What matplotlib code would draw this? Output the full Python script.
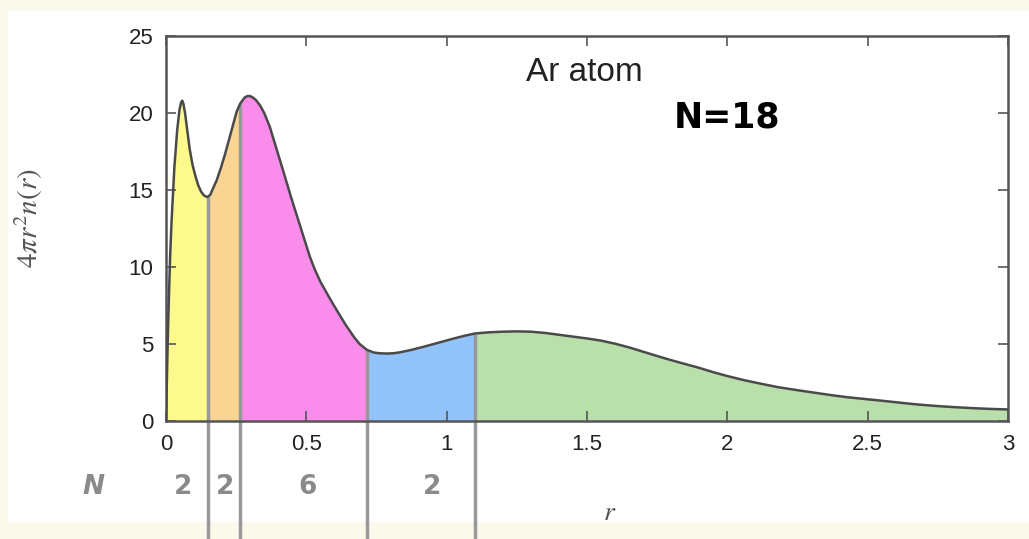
import numpy as np
import matplotlib
matplotlib.use('Agg')
import matplotlib.pyplot as plt
from matplotlib.patches import Rectangle

# radial density of the Ar atom
r_vals = [0, 0.003, 0.006, 0.01, 0.015, 0.02, 0.03, 0.04, 0.048, 0.054, 0.058,
          0.062, 0.068, 0.075, 0.085, 0.095, 0.105, 0.115, 0.125, 0.135, 0.146,
          0.15, 0.158, 0.165, 0.18, 0.195, 0.21, 0.225, 0.24, 0.252, 0.264,
          0.28, 0.29, 0.30, 0.31, 0.32, 0.335, 0.35, 0.37, 0.4, 0.42, 0.442,
          0.46, 0.48, 0.5, 0.513, 0.53, 0.55, 0.57, 0.584, 0.6, 0.62, 0.64,
          0.655, 0.67, 0.69, 0.716, 0.74, 0.76, 0.786, 0.81, 0.83, 0.87, 0.92,
          0.97, 1.02, 1.06, 1.10, 1.15, 1.2, 1.25, 1.3, 1.35, 1.4, 1.45, 1.5,
          1.55, 1.6, 1.65, 1.7, 1.75, 1.8, 1.85, 1.9, 1.95, 2.0, 2.06, 2.12,
          2.18, 2.25, 2.31, 2.37, 2.43, 2.5, 2.56, 2.62, 2.68, 2.75, 2.81,
          2.87, 2.93, 3.0]
dens_vals = [0, 2.5, 5.0, 7.8, 10.8, 13.0, 16.5, 18.9, 20.2, 20.7, 20.8,
             20.6, 20.0, 19.0, 17.6, 16.6, 15.9, 15.3, 14.9, 14.65, 14.55,
             14.56, 14.7, 15.0, 15.6, 16.4, 17.3, 18.3, 19.3, 20.1, 20.6,
             21.0, 21.1, 21.1, 21.0, 20.85, 20.5, 20.0, 19.1, 17.3, 16.1, 14.75,
             13.7, 12.55, 11.4, 10.65, 9.85, 9.05, 8.4, 7.95, 7.45, 6.85, 6.25,
             5.85, 5.45, 5.0, 4.62, 4.45, 4.4, 4.38, 4.4, 4.45, 4.6, 4.83,
             5.08, 5.33, 5.52, 5.68, 5.76, 5.8, 5.82, 5.8, 5.72, 5.6, 5.48, 5.36,
             5.22, 5.02, 4.78, 4.5, 4.22, 3.95, 3.7, 3.45, 3.17, 2.92, 2.65, 2.42,
             2.2, 2.0, 1.84, 1.68, 1.54, 1.41, 1.3, 1.18, 1.07, 0.97, 0.9,
             0.84, 0.79, 0.75]

shell_edges = [0, 0.15, 0.264, 0.716, 1.10, 3.0]
shell_colors = ['#fcfa8c', '#fad492', '#fa8ceb', '#92c3fa', '#b9e0aa']
count_labels = ['N', '2', '2', '6', '2']

x_ticks = [0, 0.5, 1, 1.5, 2, 2.5, 3]
x_ticklabels = ['0', '0.5', '1', '1.5', '2', '2.5', '3']
y_ticks = [0, 5, 10, 15, 20, 25]

r = np.array(r_vals)
d = np.array(dens_vals)

plt.rcParams['font.family'] = ['Liberation Sans', 'DejaVu Sans']
plt.rcParams['mathtext.fontset'] = 'stix'

fig = plt.figure(figsize=(10.29, 5.39), dpi=100, facecolor='#fbf8ec')
fig.patches.append(Rectangle((0.008, 0.032), 0.992, 0.948, transform=fig.transFigure,
                             facecolor='white', edgecolor='none', zorder=-10))
ax = fig.add_axes([0.1613, 0.2189, 0.8183, 0.7143])

for i in range(len(shell_colors)):
    lo, hi = shell_edges[i], shell_edges[i + 1]
    m = (r >= lo) & (r <= hi)
    ax.fill_between(r[m], 0, d[m], color=shell_colors[i], lw=0, zorder=1)

# boundaries between shells, running down past the axis
for e in shell_edges[1:-1]:
    top = np.interp(e, r, d)
    ax.plot([e, e], [-7.7, top], color='#999999', lw=2.5, clip_on=False,
            solid_capstyle='butt', zorder=2)

ax.plot(r, d, color='#4a4a4a', lw=1.8, zorder=3)

ax.set_xlim(0, 3)
ax.set_ylim(0, 25)
ax.set_xticks(x_ticks)
ax.set_xticklabels(x_ticklabels)
ax.set_yticks(y_ticks)
ax.tick_params(direction='in', length=7, width=1.2, color='#555555',
               top=True, right=True, labelsize=16, labelcolor='#222222', pad=9)
for s in ax.spines.values():
    s.set_color('#555555')
    s.set_linewidth(1.8)

ax.set_ylabel(r'$4\pi r^2 n(r)$', fontsize=21, color='#555555')
ax.yaxis.set_label_coords(-0.1437, 0.527)
ax.set_xlabel(r'$r$', fontsize=20, color='#555555')
ax.xaxis.set_label_coords(0.527, -0.205)

ax.text(1.49, 22.6, 'Ar atom', fontsize=24, color='#222222', ha='center', va='center')

# handwritten notes
fig.text(727 / 1029, 1 - 118 / 539, 'N=18', fontsize=25, fontweight='bold',
         color='black', ha='center', va='center', family='DejaVu Sans')
label_x = [-0.26, 0.06, 0.21, 0.506, 0.948]
for lx, t in zip(label_x, count_labels):
    ax.text(lx, -4.3, t, fontsize=19, fontweight='bold', color='#8a8a8a',
            ha='center', va='center', family='DejaVu Sans', clip_on=False,
            style='italic' if t == 'N' else 'normal')

fig.savefig('out.png', dpi=100, facecolor=fig.get_facecolor())
